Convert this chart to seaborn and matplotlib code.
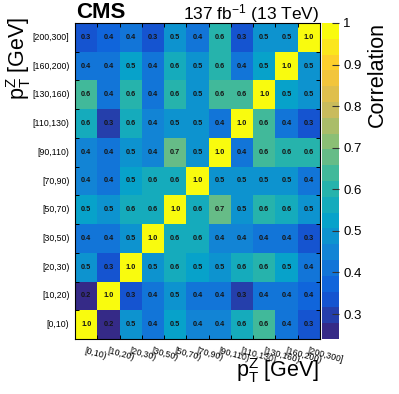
import numpy as np
import pandas as pd
import matplotlib
matplotlib.use("Agg")
import matplotlib.pyplot as plt
import seaborn as sns
from matplotlib.colors import LinearSegmentedColormap

plt.rcParams['font.family'] = ['Liberation Sans', 'DejaVu Sans']
plt.rcParams['mathtext.default'] = 'regular'

# pT(Z) bins, same order for rows and columns (bottom -> top, left -> right)
bins = ["[0,10)", "[10,20)", "[20,30)", "[30,50)", "[50,70)", "[70,90)",
        "[90,110)", "[110,130)", "[130,160)", "[160,200)", "[200,300]"]

# correlation matrix, row i = bins[i]
corr = [
    [1.00, 0.24, 0.50, 0.42, 0.52, 0.44, 0.44, 0.58, 0.62, 0.42, 0.33],
    [0.24, 1.00, 0.34, 0.42, 0.48, 0.42, 0.42, 0.30, 0.40, 0.40, 0.38],
    [0.50, 0.34, 1.00, 0.47, 0.56, 0.52, 0.50, 0.58, 0.60, 0.52, 0.42],
    [0.42, 0.42, 0.47, 1.00, 0.56, 0.56, 0.44, 0.44, 0.42, 0.42, 0.32],
    [0.52, 0.48, 0.56, 0.56, 1.00, 0.56, 0.68, 0.50, 0.60, 0.58, 0.48],
    [0.44, 0.42, 0.52, 0.56, 0.56, 1.00, 0.50, 0.50, 0.50, 0.48, 0.40],
    [0.44, 0.42, 0.50, 0.44, 0.68, 0.50, 1.00, 0.42, 0.62, 0.60, 0.60],
    [0.58, 0.30, 0.58, 0.44, 0.50, 0.50, 0.42, 1.00, 0.62, 0.42, 0.32],
    [0.62, 0.40, 0.60, 0.42, 0.60, 0.50, 0.62, 0.62, 1.00, 0.52, 0.50],
    [0.42, 0.40, 0.52, 0.42, 0.58, 0.48, 0.60, 0.42, 0.52, 1.00, 0.48],
    [0.33, 0.38, 0.42, 0.32, 0.48, 0.40, 0.60, 0.32, 0.50, 0.48, 1.00],
]

cbar_ticks = [0.3, 0.4, 0.5, 0.6, 0.7, 0.8, 0.9, 1.0]
cbar_ticklabels = ["0.3", "0.4", "0.5", "0.6", "0.7", "0.8", "0.9", "1"]

# ROOT kBird palette
stops = [0.0, 0.125, 0.25, 0.375, 0.5, 0.625, 0.75, 0.875, 1.0]
red = [0.2082, 0.0592, 0.0780, 0.0232, 0.1802, 0.5301, 0.8186, 0.9956, 0.9764]
green = [0.1664, 0.3599, 0.5041, 0.6419, 0.7178, 0.7492, 0.7328, 0.7862, 0.9832]
blue = [0.5293, 0.8684, 0.8385, 0.7914, 0.6425, 0.4662, 0.3499, 0.1968, 0.0539]
bird = LinearSegmentedColormap.from_list("bird", list(zip(stops, zip(red, green, blue))))
cmap = bird.resampled(20)

df = pd.DataFrame(corr, index=bins, columns=bins).iloc[::-1]

W, H = 399, 394
fig = plt.figure(figsize=(W / 100, H / 100), dpi=100)
ax = fig.add_axes([75 / W, 1 - 339 / H, 245 / W, 316 / H])
cax = fig.add_axes([322 / W, 1 - 339 / H, 17 / W, 316 / H])

sns.heatmap(df, ax=ax, cbar_ax=cax, cmap=cmap, vmin=np.min(corr), vmax=1.0,
            annot=True, fmt=".1f",
            annot_kws={"fontsize": 5.3, "color": "#151515", "fontweight": "bold"})

for s in ax.spines.values():
    s.set_visible(True)
    s.set_linewidth(0.8)
    s.set_color("black")

n = len(bins)
ax.set_xticks(np.arange(n) + 0.5)
ax.set_xticklabels(bins, rotation=-15, ha="left", rotation_mode="anchor", fontsize=6.3)
ax.set_yticks(np.arange(n) + 0.5)
ax.set_yticklabels(df.index, rotation=0, fontsize=6.3)
ax.tick_params(which="major", length=0, pad=4)
ax.tick_params(axis="x", which="major", pad=5)
ax.set_xticks(np.arange(n + 1), minor=True)
ax.set_yticks(np.arange(n + 1), minor=True)
ax.tick_params(which="minor", direction="in", length=3, width=0.7, color="black",
               top=True, bottom=True, left=True, right=True)
ax.set_xlabel("")
ax.set_ylabel("")

cbar = ax.collections[0].colorbar
cbar.set_ticks(cbar_ticks)
cbar.set_ticklabels(cbar_ticklabels)
cbar.outline.set_linewidth(0)
cax.tick_params(direction="in", length=5, width=0.8, color="#333333", labelsize=9.5, pad=3)
cax.minorticks_off()

fig.text(76 / W, 1 - 18 / H, "CMS", fontsize=16, fontweight="bold", ha="left", va="baseline")
fig.text(319 / W, 1 - 19 / H, "137 fb$^{-1}$ (13 TeV)", fontsize=12.5, ha="right", va="baseline")
fig.text(319 / W, 1 - 377 / H, r"$p_{T}^{Z}$ [GeV]", fontsize=15.5, ha="right", va="baseline")
fig.text(4 / W, 1 - 17 / H, r"$p_{T}^{Z}$ [GeV]", fontsize=15.5, ha="left", va="top", rotation=90)
fig.text(388 / W, 1 - 22 / H, "Correlation", fontsize=15.5, ha="right", va="top", rotation=90)

fig.savefig("out.png", dpi=100)
